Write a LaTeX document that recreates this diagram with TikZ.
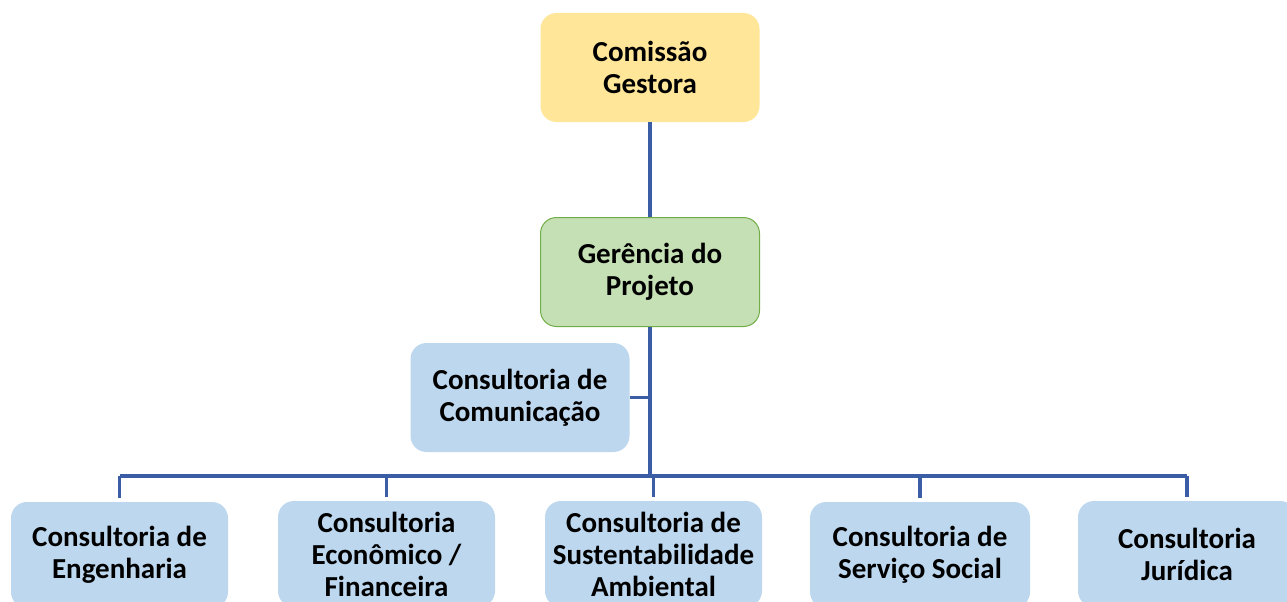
\documentclass[tikz,border=0pt]{standalone}
\usepackage{fontspec}
\setmainfont{Carlito}
\definecolor{cyellow}{HTML}{FFE699}
\definecolor{cgreen}{HTML}{C5E0B4}
\definecolor{cgreenline}{HTML}{70AD47}
\definecolor{cblue}{HTML}{BDD7EE}
\definecolor{cline}{HTML}{3A5DA5}
\tikzset{
  box/.style={rounded corners=16pt, minimum width=219pt, minimum height=109pt,
    align=center, inner sep=0pt, font=\bfseries\fontsize{29}{32}\selectfont, text=black},
  yellowbox/.style={box, fill=cyellow, draw=none},
  greenbox/.style={box, fill=cgreen, draw=cgreenline, line width=1pt},
  bluebox/.style={box, fill=cblue, draw=none},
  bottombox/.style={bluebox, minimum width=217pt, minimum height=106pt},
  conn/.style={draw=cline, line width=3.2pt},
}
\begin{document}
\begin{tikzpicture}[x=1pt,y=-1pt]
\useasboundingbox (0,0) rectangle (1287,602);
\clip (0,0) rectangle (1287,602);
\node[yellowbox] (com) at (650,67.5) {Comissão\\Gestora};
\node[greenbox] (ger) at (650,272) {Gerência do\\Projeto};
\node[bluebox] (cmc) at (520,397.5) {Consultoria de\\Comunicação};
\node[bottombox] (eng) at (119.5,555) {Consultoria de\\Engenharia};
\node[bottombox] (eco) at (386.5,554) {Consultoria\\Econômico /\\Financeira};
\node[bottombox] (sus) at (653.5,554) {Consultoria de\\Sustentabilidade\\Ambiental};
\node[bottombox, minimum width=220pt] (soc) at (920,555) {Consultoria de\\Serviço Social};
\node[bottombox, minimum width=218pt] (jur) at (1187,554) {Consultoria\\Jurídica};
\coordinate (bus) at (650,476);
\draw[conn] (com.south) -- (ger.north);
\draw[conn] (ger.south) -- (bus);
\draw[conn] (cmc.east) -- (cmc.east -| ger.south);
\draw[conn] (bus -| eng.north) -- (bus -| jur.north);
\foreach \n in {eng,eco,sus,soc,jur}
  \draw[conn, shorten >=4pt] (bus -| \n.north) -- (\n.north);
\end{tikzpicture}
\end{document}
